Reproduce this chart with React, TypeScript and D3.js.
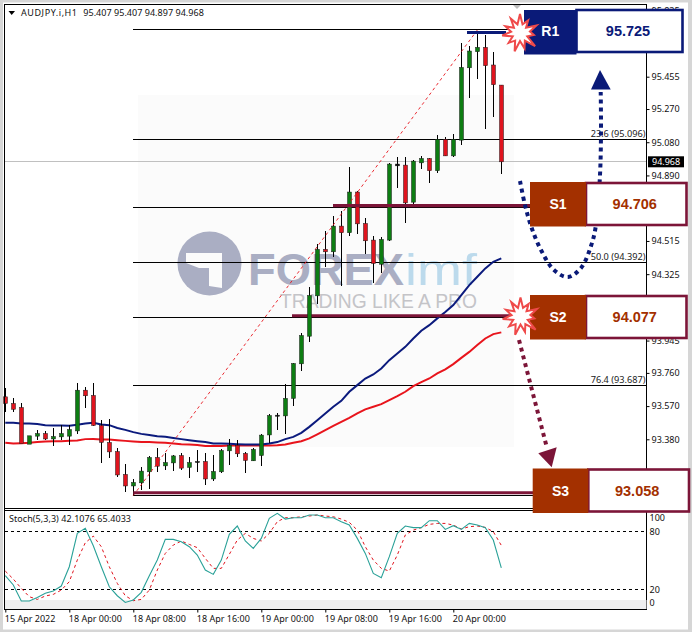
import React from "react";
import * as d3 from "d3";

const opens = [
  93.623,93.585,93.562,93.352,93.398,93.413,93.382,93.394,93.398,93.428,
  93.661,93.631,93.459,93.362,93.310,93.179,93.113,93.131,93.194,93.276,
  93.228,93.245,93.287,93.219,93.247,93.253,93.153,93.194,93.314,93.346,
  93.299,93.257,93.287,93.405,93.518,93.514,93.614,93.812,93.970,94.201,
  94.467,94.453,94.600,94.562,94.795,94.615,94.520,94.382,94.520,94.945,
  94.949,94.737,94.962,94.987,94.917,95.096,95.002,95.092,95.506,95.598,
  95.623,95.522,95.407,
];
const highs = [
  93.671,93.619,93.585,93.400,93.432,93.428,93.442,93.461,93.461,93.700,
  93.680,93.700,93.490,93.494,93.328,93.236,93.150,93.222,93.283,93.328,
  93.299,93.289,93.299,93.279,93.318,93.299,93.289,93.322,93.381,93.375,
  93.308,93.328,93.409,93.524,93.528,93.694,93.814,93.989,94.252,94.497,
  94.571,94.657,94.688,94.939,94.802,94.644,94.543,94.535,94.962,94.997,
  94.993,94.978,95.001,94.987,95.121,95.109,95.127,95.649,95.631,95.703,
  95.694,95.598,95.407,
];
const lows = [
  93.537,93.537,93.356,93.352,93.375,93.375,93.341,93.375,93.346,93.413,
  93.560,93.455,93.242,93.274,93.165,93.076,93.054,93.089,93.093,93.194,
  93.203,93.199,93.203,93.157,93.194,93.117,93.142,93.190,93.232,93.276,
  93.188,93.257,93.226,93.356,93.432,93.409,93.570,93.770,93.938,94.157,
  94.364,94.424,94.258,94.543,94.554,94.438,94.272,94.329,94.516,94.816,
  94.619,94.720,94.926,94.844,94.902,95.002,94.997,95.064,95.331,95.442,
  95.155,95.222,94.897,
];
const closes = [
  93.585,93.552,93.356,93.400,93.413,93.382,93.396,93.413,93.436,93.661,
  93.629,93.459,93.362,93.308,93.176,93.113,93.133,93.198,93.276,93.226,
  93.247,93.285,93.215,93.247,93.253,93.153,93.196,93.316,93.346,93.297,
  93.259,93.322,93.404,93.516,93.512,93.614,93.814,93.974,94.203,94.467,
  94.453,94.600,94.562,94.795,94.613,94.516,94.386,94.524,94.955,94.955,
  94.733,94.972,94.987,94.917,95.096,95.002,95.096,95.508,95.602,95.623,
  95.518,95.409,94.968,
];
const maBlue = [
  93.474,93.474,93.471,93.471,93.467,93.461,93.459,93.459,93.457,93.463,
  93.471,93.474,93.465,93.461,93.445,93.434,93.421,93.411,93.405,93.398,
  93.394,93.388,93.381,93.375,93.369,93.364,93.356,93.356,93.354,93.352,
  93.350,93.350,93.350,93.356,93.364,93.381,93.394,93.417,93.451,93.489,
  93.528,93.566,93.600,93.652,93.690,93.728,93.751,93.785,93.833,93.871,
  93.909,93.957,94.001,94.033,94.072,94.109,94.148,94.205,94.262,94.310,
  94.358,94.396,94.415,
];
const maRed = [
  93.360,93.356,93.358,93.360,93.365,93.368,93.369,93.369,93.371,93.373,
  93.381,93.382,93.379,93.379,93.375,93.371,93.368,93.365,93.364,93.362,
  93.360,93.356,93.352,93.350,93.348,93.342,93.342,93.342,93.345,93.345,
  93.345,93.345,93.345,93.345,93.346,93.350,93.360,93.369,93.385,93.408,
  93.432,93.457,93.480,93.503,93.528,93.551,93.566,93.581,93.604,93.627,
  93.652,93.684,93.707,93.728,93.757,93.780,93.810,93.846,93.880,93.919,
  93.957,93.982,93.992,
];
const stochMain = [
  34.0,24.4,7.8,7.8,11.6,15.8,18.2,23.3,43.3,77.8,
  83.0,65.0,43.3,22.6,13.3,6.4,8.9,16.8,34.0,50.2,
  71.6,71.6,69.2,64.0,55.4,39.9,35.4,50.2,76.8,85.4,
  69.9,62.3,72.6,93.3,98.5,92.6,94.0,94.0,96.8,96.8,
  94.0,94.0,89.9,86.4,72.6,57.1,36.4,32.0,53.7,77.8,
  85.4,83.7,83.7,90.9,90.9,81.9,85.7,81.9,88.1,86.4,
  83.7,70.9,42.1,
];
const stochSignal = [
  38.8,30.6,20.9,12.3,9.5,13.0,14.7,19.2,27.8,50.2,
  68.1,75.0,64.0,43.3,26.1,13.3,8.2,9.5,19.2,39.9,
  57.1,65.7,69.9,66.4,63.0,52.0,41.6,41.6,56.1,70.9,
  77.8,72.6,69.9,77.8,89.9,94.0,94.0,95.0,95.7,96.8,
  95.7,95.0,92.6,89.2,81.2,64.0,50.2,41.6,38.8,55.4,
  76.1,81.2,83.7,87.1,88.1,88.1,86.4,82.3,84.7,85.4,
  84.0,79.5,65.4,
];

// ticks under the level boxes are left out, the boxes hide them anyway
const priceTicks = [95.835, 95.455, 95.27, 95.08, 94.89, 94.515, 94.325, 93.945, 93.76, 93.57, 93.38];
const timeTicks = [0, 8, 16, 24, 32, 40, 48, 56];
const timeLabels = ["15 Apr 2022", "18 Apr 00:00", "18 Apr 08:00", "18 Apr 16:00", "19 Apr 00:00", "19 Apr 08:00", "19 Apr 16:00", "20 Apr 00:00"];
const fibPrices = [95.725, 95.096, 94.706, 94.392, 94.077, 93.687, 93.058];
const fibLabels = ["", "23.6 (95.096)", "", "50.0 (94.392)", "", "76.4 (93.687)", ""];
const lastPrice = 94.968;
const stochReadout = ["42.1076", "65.4033"];

const boxNames = ["R1", "S1", "S2", "S3"];
const boxValues = ["95.725", "94.706", "94.077", "93.058"];

// starburst radii, point / notch
const burstRadii = [19, 9, 15, 8, 18, 10, 14, 8, 20, 9, 16, 8, 19, 9, 15, 8, 18, 9, 16, 8, 17, 9];

const MAROON = "#7c1538";
const RUST = "#a33000";
const NAVY = "#0a1a78";
const TICK_FONT = "'Noto Sans', sans-serif";
const BOX_FONT = "'Liberation Sans', Arial, sans-serif";

function App() {
  const svgRef = React.useRef<SVGSVGElement>(null);

  React.useEffect(() => {
    const svg = d3.select(svgRef.current);
    svg.selectAll("*").remove();

    const n = closes.length;
    const xScale = d3.scaleLinear().domain([0, n - 1]).range([5.3, 501.3]);
    const yScale = d3.scaleLinear().domain([93.38, 95.455]).range([439.3, 76.7]);
    const stochY = d3.scaleLinear().domain([0, 100]).range([608.6, 511.9]);
    const idx = d3.range(n);
    const left = 4.5;
    const right = 646.5;

    // window chrome
    svg.append("rect").attr("width", 692).attr("height", 632).attr("fill", "#d6d6d6");
    svg.append("rect").attr("x", 3).attr("y", 2.5).attr("width", 685).attr("height", 627).attr("fill", "#fff");

    // watermark
    svg.append("rect").attr("x", 138).attr("y", 95).attr("width", 376).attr("height", 352).attr("fill", "#fbfbfb");
    const logoColor = "#aaaec3";
    svg.append("circle").attr("cx", 209.5).attr("cy", 263.5).attr("r", 32).attr("fill", logoColor);
    svg.append("polygon")
      .attr("points", "186,253 222,253 222,288 209,286 209,268 199,268 186,263")
      .attr("fill", "#fbfbfb");
    svg.append("text").attr("x", 248).attr("y", 285)
      .attr("font-family", BOX_FONT).attr("font-weight", 700).attr("font-size", 45)
      .attr("textLength", 156).attr("lengthAdjust", "spacingAndGlyphs")
      .attr("fill", logoColor).text("FOREX");
    svg.append("text").attr("x", 405).attr("y", 285)
      .attr("font-family", BOX_FONT).attr("font-size", 44)
      .attr("textLength", 72).attr("lengthAdjust", "spacingAndGlyphs")
      .attr("fill", "#bcdaec").text("imf");
    svg.append("text").attr("x", 280).attr("y", 308)
      .attr("font-family", BOX_FONT).attr("font-size", 20.5)
      .attr("textLength", 197).attr("lengthAdjust", "spacingAndGlyphs")
      .attr("fill", "#c4c4c8").text("TRADING LIKE A PRO");

    // last price line
    svg.append("line")
      .attr("x1", left).attr("x2", right)
      .attr("y1", yScale(lastPrice)).attr("y2", yScale(lastPrice))
      .attr("stroke", "#c0c0c0").attr("shape-rendering", "crispEdges");

    // fibo levels
    svg.append("g").selectAll("line").data(fibPrices).join("line")
      .attr("x1", xScale(16)).attr("x2", right)
      .attr("y1", d => yScale(d)).attr("y2", d => yScale(d))
      .attr("stroke", "#000").attr("shape-rendering", "crispEdges");
    svg.append("g").selectAll("text").data(fibPrices).join("text")
      .attr("x", right - 1).attr("y", d => yScale(d) - 2.5)
      .attr("text-anchor", "end").attr("font-family", TICK_FONT).attr("font-size", 9.2)
      .attr("fill", "#222").text((d, i) => fibLabels[i]);

    // moving averages
    const maLine = d3.line<number>().x((d, i) => xScale(i)).y(d => yScale(d));
    svg.append("path").datum(maRed).attr("fill", "none").attr("stroke", "#e8141c").attr("stroke-width", 2).attr("d", maLine);
    svg.append("path").datum(maBlue).attr("fill", "none").attr("stroke", "#0b1a7d").attr("stroke-width", 2).attr("d", maLine);

    // S2 line goes under the candles
    const levelLine = (price: number, x1: number, x2: number, color: string) =>
      svg.append("line").attr("x1", x1).attr("x2", x2)
        .attr("y1", yScale(price)).attr("y2", yScale(price))
        .attr("stroke", color).attr("stroke-width", 3.2);
    levelLine(94.087, 292, 510, MAROON);

    // candles
    const candles = svg.append("g");
    candles.selectAll("line").data(idx).join("line")
      .attr("x1", i => Math.round(xScale(i)) + 0.5).attr("x2", i => Math.round(xScale(i)) + 0.5)
      .attr("y1", i => yScale(highs[i])).attr("y2", i => yScale(lows[i]))
      .attr("stroke", "#000").attr("shape-rendering", "crispEdges");
    candles.selectAll("rect").data(idx).join("rect")
      .attr("x", i => Math.round(xScale(i)) - 1.5)
      .attr("width", 4)
      .attr("y", i => yScale(Math.max(opens[i], closes[i])))
      .attr("height", i => Math.max(1, Math.abs(yScale(opens[i]) - yScale(closes[i]))))
      .attr("fill", i => Math.abs(opens[i] - closes[i]) < 0.012 ? "#000" : closes[i] > opens[i] ? "#0d7d12" : "#e0141e")
      .attr("stroke", "#1c1c1c").attr("stroke-width", 0.5);

    // fibo trend line
    svg.append("line")
      .attr("x1", xScale(16)).attr("y1", yScale(fibPrices[6]))
      .attr("x2", 479).attr("y2", yScale(95.735))
      .attr("stroke", "#e8141c").attr("stroke-width", 0.9).attr("stroke-dasharray", "3 3");

    // support / resistance lines
    levelLine(94.717, 333, 532, MAROON);
    levelLine(93.074, xScale(16), 534, MAROON);
    levelLine(95.708, 467, 506, NAVY);

    // gray marker at top of chart
    svg.append("polygon").attr("points", "512,4 522,4 517,9").attr("fill", "#bdbdbd");

    // frame and price axis
    svg.append("path")
      .attr("d", `M${left},609.5V4.5H${right}V609.5H${left}`)
      .attr("fill", "none").attr("stroke", "#000").attr("shape-rendering", "crispEdges");
    svg.append("line").attr("x1", left).attr("x2", right).attr("y1", 508.5).attr("y2", 508.5)
      .attr("stroke", "#000").attr("shape-rendering", "crispEdges");
    svg.append("line").attr("x1", left).attr("x2", right).attr("y1", 510.5).attr("y2", 510.5)
      .attr("stroke", "#000").attr("shape-rendering", "crispEdges");

    const priceAxis = svg.append("g").attr("transform", `translate(${right},0)`)
      .call(d3.axisRight(yScale).tickValues(priceTicks).tickFormat(d3.format(".3f")).tickSize(3).tickPadding(2));
    priceAxis.select(".domain").remove();
    priceAxis.selectAll("text").attr("font-family", TICK_FONT).attr("font-size", 9).attr("fill", "#111");

    // last price tag
    svg.append("rect").attr("x", 648).attr("y", yScale(lastPrice) - 5.5).attr("width", 36).attr("height", 11).attr("fill", "#000");
    svg.append("text").attr("x", 652).attr("y", yScale(lastPrice) + 3.3)
      .attr("font-family", TICK_FONT).attr("font-size", 9).attr("fill", "#fff").text(d3.format(".3f")(lastPrice));

    // header text
    svg.append("polygon").attr("points", "8.5,11 15,11 11.7,15").attr("fill", "#000");
    svg.append("text").attr("x", 21).attr("y", 16)
      .attr("font-family", TICK_FONT).attr("font-size", 9).attr("fill", "#111")
      .attr("textLength", 56).attr("lengthAdjust", "spacing")
      .text("AUDJPY.i,H1");
    svg.append("text").attr("x", 83.3).attr("y", 16)
      .attr("font-family", TICK_FONT).attr("font-size", 9).attr("fill", "#111")
      .attr("textLength", 120.5).attr("lengthAdjust", "spacing")
      .text(`${opens[n - 1].toFixed(3)} ${highs[n - 1].toFixed(3)} ${lows[n - 1].toFixed(3)} ${closes[n - 1].toFixed(3)}`);

    // stochastic panel
    svg.append("rect").attr("x", 5).attr("y", 600).attr("width", right - 5).attr("height", 9).attr("fill", "#efefef");
    svg.append("g").selectAll("line").data([80, 20]).join("line")
      .attr("x1", left).attr("x2", right)
      .attr("y1", d => stochY(d)).attr("y2", d => stochY(d))
      .attr("stroke", "#000").attr("stroke-dasharray", "3 3").attr("shape-rendering", "crispEdges");
    const stochLine = d3.line<number>().x((d, i) => xScale(i)).y(d => stochY(d));
    svg.append("path").datum(stochSignal).attr("fill", "none")
      .attr("stroke", "#e0141e").attr("stroke-dasharray", "3 3").attr("d", stochLine);
    svg.append("path").datum(stochMain).attr("fill", "none")
      .attr("stroke", "#2aa198").attr("stroke-width", 1.1).attr("d", stochLine);
    svg.append("text").attr("x", 9).attr("y", 522)
      .attr("font-family", TICK_FONT).attr("font-size", 9).attr("fill", "#111")
      .attr("textLength", 122).attr("lengthAdjust", "spacing")
      .text(`Stoch(5,3,3) ${stochReadout[0]} ${stochReadout[1]}`);

    const stochAxis = svg.append("g").attr("transform", `translate(${right},0)`)
      .call(d3.axisRight(stochY).tickValues([100, 80, 20, 0]).tickSize(0).tickPadding(3));
    stochAxis.select(".domain").remove();
    stochAxis.selectAll("text")
      .attr("font-family", TICK_FONT).attr("font-size", 9).attr("fill", "#111")
      .attr("dy", (d: any) => d === 100 ? "8.3px" : d === 0 ? "-3.4px" : "2.9px");

    // time axis
    const timeAxis = svg.append("g").attr("transform", "translate(0,609.5)")
      .call(d3.axisBottom(xScale).tickValues(timeTicks).tickFormat((d, i) => timeLabels[i]).tickSize(3).tickPadding(3));
    timeAxis.select(".domain").remove();
    timeAxis.selectAll("text")
      .attr("font-family", TICK_FONT).attr("font-size", 9).attr("fill", "#111")
      .attr("text-anchor", "start").attr("dx", "-1px");

    // dotted arrows
    const curve = d3.line().curve(d3.curveCatmullRom);
    svg.append("path")
      .attr("d", curve([[520, 181], [525, 205], [531.7, 228], [541, 250], [554, 270], [568, 277], [581, 268], [591, 246], [596, 225], [600, 175], [601, 130], [600.7, 92]]))
      .attr("fill", "none").attr("stroke", NAVY).attr("stroke-width", 4).attr("stroke-dasharray", "4 4");
    svg.append("polygon").attr("points", "600,70 610.7,89.5 591,89.5").attr("fill", NAVY);
    svg.append("path")
      .attr("d", "M519,340L547,448")
      .attr("fill", "none").attr("stroke", MAROON).attr("stroke-width", 4).attr("stroke-dasharray", "4 4");
    svg.append("polygon").attr("points", "551.7,467.3 538.3,453.3 556.7,447.3").attr("fill", MAROON);

    // level boxes
    const boxLeft = [524, 530, 530, 532.7];
    const boxTop = [10, 182, 295, 468.5];
    const boxDiv = [576.5, 586, 586, 588.3];
    const boxRight = [683.5, 687.5, 687.5, 690];
    const boxH = 44.5;
    const boxes = svg.append("g").selectAll("g").data(boxNames).join("g");
    boxes.append("rect")
      .attr("x", (d, i) => boxDiv[i]).attr("y", (d, i) => boxTop[i] + (i === 0 ? 0 : 1))
      .attr("width", (d, i) => boxRight[i] - boxDiv[i] - 1).attr("height", boxH - 2.5)
      .attr("fill", "#fff").attr("stroke", (d, i) => i === 0 ? NAVY : MAROON).attr("stroke-width", 2.6);
    boxes.append("rect")
      .attr("x", (d, i) => boxLeft[i]).attr("y", (d, i) => boxTop[i])
      .attr("width", (d, i) => boxDiv[i] - boxLeft[i]).attr("height", boxH)
      .attr("fill", (d, i) => i === 0 ? NAVY : RUST);
    boxes.append("text")
      .attr("x", (d, i) => (boxLeft[i] + boxDiv[i]) / 2).attr("y", (d, i) => boxTop[i] + (i === 0 ? 26 : 27))
      .attr("text-anchor", "middle").attr("font-family", BOX_FONT).attr("font-weight", 700).attr("font-size", 14)
      .attr("fill", "#fff").text(d => d);
    boxes.append("text")
      .attr("x", (d, i) => (boxDiv[i] + boxRight[i]) / 2 - 2).attr("y", (d, i) => boxTop[i] + (i === 0 ? 26 : 27))
      .attr("text-anchor", "middle").attr("font-family", BOX_FONT).attr("font-weight", 700).attr("font-size", 14.5)
      .attr("fill", (d, i) => i === 0 ? NAVY : RUST).text((d, i) => boxValues[i]);

    // bursts
    const burst = d3.lineRadial<number>()
      .angle((d, i) => (i / burstRadii.length) * 2 * Math.PI)
      .radius(d => d)
      .curve(d3.curveLinearClosed);
    [[520, 33], [520.5, 316.5]].forEach(([cx, cy]) => {
      svg.append("path").attr("transform", `translate(${cx},${cy})`)
        .attr("d", burst(burstRadii))
        .attr("fill", "#fff").attr("stroke", "#ef4a4a").attr("stroke-width", 2);
    });
  }, []);

  return (
    <svg ref={svgRef} width={692} height={632} style={{ position: "absolute", left: 0, top: 0 }} />
  );
}

export default App;
